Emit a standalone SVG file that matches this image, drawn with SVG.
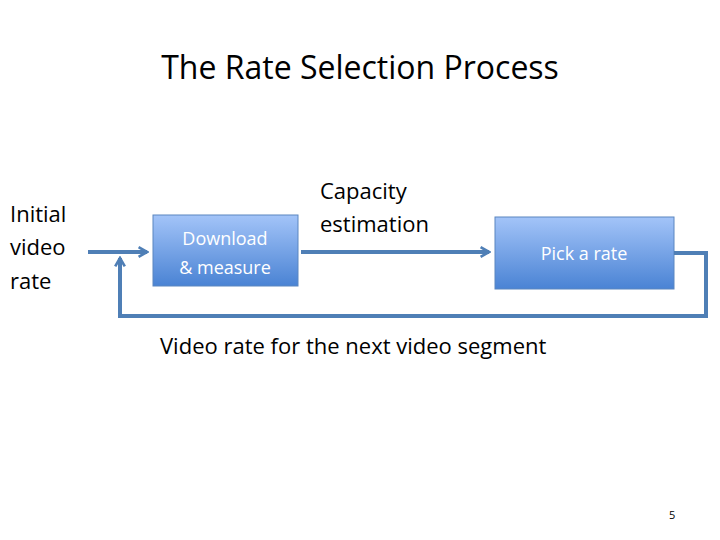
<svg xmlns="http://www.w3.org/2000/svg" width="720" height="540" viewBox="0 0 720 540">
<defs>
<linearGradient id="g" x1="0" y1="0" x2="0" y2="1"><stop offset="0" stop-color="#a3c4f8"/><stop offset="1" stop-color="#4a83d4"/></linearGradient>
<marker id="a" viewBox="0 0 10 10" refX="8" refY="5" markerWidth="3" markerHeight="3" orient="auto"><path d="M1,1 L8,5 L1,9" fill="none" stroke="#4f7fb6" stroke-width="2.2"/></marker>
</defs>
<style>
text{font-family:"Open Sans","Liberation Sans",sans-serif;fill:#000}
.box{fill:url(#g);stroke:#5b86c0;stroke-width:1}
.bt{fill:#fff;font-size:18px;text-anchor:middle}
.c{fill:none;stroke:#4f7fb6;stroke-width:4}
</style>
<rect width="720" height="540" fill="#fff"/>
<text x="360" y="79" font-size="32" text-anchor="middle">The Rate Selection Process</text>
<g id="initial"><text font-size="22" x="10" y="222">Initial</text><text font-size="22" x="10" y="255">video</text><text font-size="22" x="10" y="289">rate</text></g>
<g id="download"><rect class="box" x="153" y="215" width="145" height="71"/><text class="bt" x="225" y="245">Download</text><text class="bt" x="225" y="274">&amp; measure</text></g>
<g id="pick"><rect class="box" x="495" y="217" width="179" height="72"/><text class="bt" x="584" y="260">Pick a rate</text></g>
<g id="connectors">
<line class="c" x1="88" y1="252" x2="147" y2="252" marker-end="url(#a)"/>
<line class="c" x1="301" y1="252" x2="489" y2="252" marker-end="url(#a)"/>
<polyline class="c" points="674,253 706,253 706,316 120,316 120,258" marker-end="url(#a)"/>
</g>
<g id="labels">
<text font-size="22" x="320" y="199">Capacity</text>
<text font-size="22" x="320" y="232">estimation</text>
<text font-size="22" x="160" y="354">Video rate for the next video segment</text>
<text font-size="11" x="669" y="519">5</text>
</g>
</svg>
